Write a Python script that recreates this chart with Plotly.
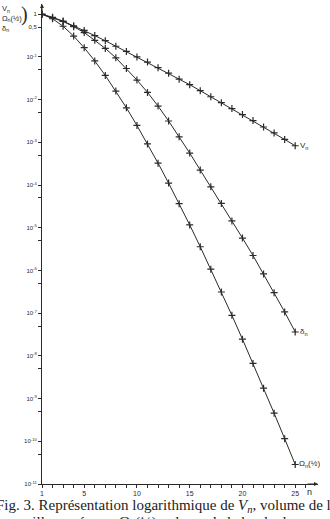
import plotly.graph_objects as go

n = list(range(1, 26))
V_n = [1, 0.851, 0.692, 0.537, 0.417, 0.316, 0.240, 0.178, 0.135, 0.100,
       0.0759, 0.0562, 0.0417, 0.0302, 0.0224, 0.0162, 0.0117, 0.00851,
       0.00617, 0.00447, 0.00324, 0.00229, 0.00166, 0.00117, 0.000832]
delta_n = [1, 0.832, 0.676, 0.513, 0.372, 0.245, 0.158, 0.0955, 0.0537, 0.0288,
           0.0148, 0.00708, 0.00316, 0.00135, 5.62e-4, 2.24e-4, 9.12e-5, 3.72e-5,
           1.45e-5, 5.75e-6, 2.24e-6, 8.32e-7, 3.02e-7, 1.07e-7, 3.63e-8]
omega_n = [1, 0.7854, 0.5236, 0.3084, 0.1645, 0.08075, 0.03691, 0.01585,
           0.006442, 0.002490, 9.200e-4, 3.260e-4, 1.1116e-4, 3.658e-5,
           1.164e-5, 3.591e-6, 1.0756e-6, 3.134e-7, 8.892e-8, 2.461e-8,
           6.650e-9, 1.757e-9, 4.548e-10, 1.150e-10, 2.861e-11]

x_major = [1, 5, 10, 15, 20, 25]
x_minor = list(range(1, 27))
y_decades = list(range(0, -12, -1))
y_labels = ["1"] + ["10<sup>%d</sup>" % k for k in y_decades[1:]]
y_half = [0.5 * 10.0 ** k for k in y_decades[1:]]

ink = "#2a2a2a"
fig = go.Figure()
for ys in (V_n, delta_n, omega_n):
    fig.add_trace(go.Scatter(
        x=n, y=ys, mode="lines+markers",
        line=dict(color=ink, width=1),
        marker=dict(symbol="cross-thin", size=5, line=dict(color=ink, width=1.2)),
        showlegend=False, hoverinfo="skip"))

tv = [10.0 ** k for k in y_decades] + [0.5]
tt = y_labels + ["0,5"]

fig.update_layout(
    width=330, height=519,
    margin=dict(l=42, r=12, t=4, b=35),
    paper_bgcolor="white", plot_bgcolor="white",
    font=dict(family="Liberation Sans", color=ink, size=7),
    xaxis=dict(range=[1, 27.16], tickmode="array", tickvals=x_major,
               ticktext=[str(v) for v in x_major],
               ticks="outside", ticklen=3, tickwidth=1, tickcolor=ink,
               ticklabelstandoff=0,
               minor=dict(tickvals=x_minor, ticks="outside", ticklen=3,
                          tickwidth=1, tickcolor=ink, showgrid=False),
               showline=True, linecolor=ink, linewidth=1, showgrid=False,
               zeroline=False, tickfont=dict(size=7)),
    yaxis=dict(type="log", range=[-11, 0.24], tickmode="array",
               tickvals=tv, ticktext=tt, ticks="outside", ticklen=3,
               tickwidth=1, tickcolor=ink,
               minor=dict(tickvals=y_half, ticks="outside", ticklen=3,
                          tickwidth=1, tickcolor=ink, showgrid=False),
               showline=True, linecolor=ink,
               linewidth=1, showgrid=False, zeroline=False,
               tickfont=dict(size=6)),
)

ann = []
# axis arrows
ann.append(dict(x=1, y=1.0, xref="x", yref="paper", ax=0, ay=12, showarrow=True,
                arrowhead=2, arrowsize=0.8, arrowwidth=1, arrowcolor=ink, text=""))
ann.append(dict(x=1.0, y=-11, xref="paper", yref="y", ax=-12, ay=0, showarrow=True,
                arrowhead=2, arrowsize=0.8, arrowwidth=1, arrowcolor=ink, text=""))
ann.append(dict(x=1.0, y=-11, xref="paper", yref="y", xshift=-4, yshift=-8,
                text="n", showarrow=False, font=dict(size=9)))
# end labels
ann.append(dict(x=n[-1], y=-3.08, xref="x", yref="y", text="V<sub>n</sub>",
                showarrow=False, xanchor="left", xshift=3, font=dict(size=8)))
ann.append(dict(x=n[-1], y=-7.44, xref="x", yref="y", text="δ<sub>n</sub>",
                showarrow=False, xanchor="left", xshift=3, font=dict(size=8)))
ann.append(dict(x=n[-1], y=-10.54, xref="x", yref="y", text="Ω<sub>n</sub>(½)",
                showarrow=False, xanchor="left", xshift=2, font=dict(size=8)))
# y-axis legend at top left
ann.append(dict(x=0, y=1, xref="paper", yref="paper", xanchor="left", yanchor="top",
                text="V<sub>n</sub><br>Ω<sub>n</sub>(½)<br>δ<sub>n</sub>",
                showarrow=False, align="left", font=dict(size=7.5),
                xshift=-42, yshift=2))
ann.append(dict(x=0, y=1, xref="paper", yref="paper", xanchor="left", yanchor="top",
                text=")", showarrow=False, font=dict(size=20, family="Liberation Serif"),
                xshift=-23, yshift=3))
# caption
cap_font = dict(size=15, family="Liberation Serif", color="#222")
ann.append(dict(x=0, y=0, xref="paper", yref="paper", yanchor="top", xanchor="left",
                xshift=-48, yshift=-11,
                text="Fig. 3. Représentation logarithmique de <i>V<sub>n</sub></i>, volume de l",
                showarrow=False, font=cap_font))
ann.append(dict(x=0, y=0, xref="paper", yref="paper", yanchor="top", xanchor="left",
                xshift=-30, yshift=-28,
                text="maille en réseau, Ω<sub>n</sub>(½) volume de la boule de rayon ½",
                showarrow=False, font=cap_font))
fig.update_layout(annotations=ann)
fig.write_html("out.html")
